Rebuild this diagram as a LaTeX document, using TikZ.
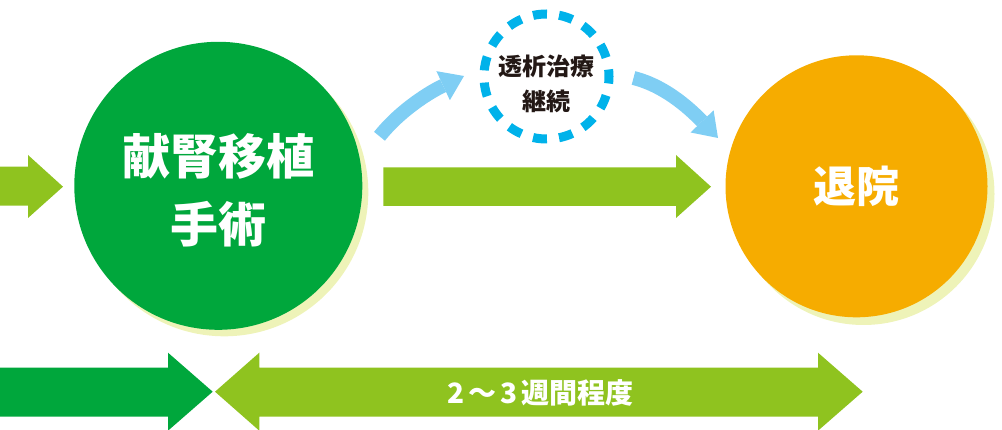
\documentclass[tikz,border=0pt]{standalone}
\usepackage{fontspec}
\newfontfamily\jp{Noto Sans CJK JP}
\usetikzlibrary{arrows.meta}
\definecolor{lgreen}{HTML}{8FC31F}
\definecolor{dgreen}{HTML}{00A73C}
\definecolor{orng}{HTML}{F6AC00}
\definecolor{shadowc}{HTML}{EEF3B8}
\definecolor{lblue}{HTML}{7FCEF4}
\definecolor{cyanc}{HTML}{00B2EA}
\definecolor{inkc}{HTML}{231815}
\tikzset{
  bigcircle/.style={circle, inner sep=0pt, draw=none},
  shadowfill/.style={fill=shadowc},
  wtext/.style={text=white, font=\jp\bfseries, align=center, inner sep=0pt},
  btext/.style={text=inkc, font=\jp\bfseries, align=center, inner sep=0pt},
  barrow/.style={draw=lblue, line width=14pt, -{Triangle[length=23pt,width=32pt,line width=0pt]}},
  dashcircle/.style={circle, inner sep=0pt, draw=cyanc, line width=9pt, dash pattern=on 14pt off 12.18pt, dash phase=7pt},
}
\begin{document}
\begin{tikzpicture}[x=1pt,y=-1pt]
\useasboundingbox (0,0) rectangle (1002,430);
% left incoming arrow
\fill[lgreen] (0,166.7) -- (28,166.7) -- (28,155) -- (63,186.7) -- (28,218) -- (28,205.7) -- (0,205.7) -- cycle;
% shadows
\fill[shadowfill] (224.3,192.3) circle[radius=144];
\fill[shadowfill] (863.5,194) circle[radius=131];
% main circles
\node[bigcircle, fill=dgreen, minimum size=288pt] (surg) at (218.3,185.8) {};
\node[wtext, font=\jp\bfseries\fontsize{48}{68}\selectfont] (surgt) at (218.3,190.5) {献腎移植\\手術};
\node[bigcircle, fill=orng, minimum size=262pt] (disc) at (856.5,186.3) {};
\node[wtext, font=\jp\bfseries\fontsize{43}{50}\selectfont] (disct) at (856.5,186) {退院};
% dashed dialysis circle
\node[dashcircle, minimum size=125pt] (dial) at (546.5,76.5) {};
\node[btext, font=\jp\bfseries\fontsize{24}{35}\selectfont] (dialt) at (546.5,83.5) {透析治療\\継続};
% middle straight arrow
\fill[lgreen] (383.3,167.3) -- (676,167.3) -- (676,155) -- (711,186.7) -- (676,218) -- (676,206) -- (383.3,206) -- cycle;
% curved blue arrows
\coordinate (b1s) at (379.5,136.3);
\coordinate (b1e) at (464,76);
\coordinate (b2s) at (633.5,78);
\coordinate (b2e) at (718,138);
\draw[barrow] (b1s) .. controls (401.5,108.7) and (432.3,90.7) .. (b1e);
\draw[barrow] (b2s) .. controls (667.5,86.4) and (693.8,112.8) .. (b2e);
% bottom arrows
\fill[dgreen] (0,367.7) -- (168,367.7) -- (168,352.7) -- (212.7,391.7) -- (168,430.7) -- (168,416.7) -- (0,416.7) -- cycle;
\fill[lgreen] (215,391.7) -- (259.3,352.7) -- (259.3,367.7) -- (818,367.7) -- (818,352.7) -- (862.7,391.7) -- (818,430.7) -- (818,416.7) -- (259.3,416.7) -- (259.3,430.7) -- cycle;
\node[wtext, font=\jp\bfseries\fontsize{28}{30}\selectfont] (dur) at (540.5,392.5) {2\hspace{4pt}～\hspace{4pt}3\hspace{3pt}週間程度};
\end{tikzpicture}
\end{document}
